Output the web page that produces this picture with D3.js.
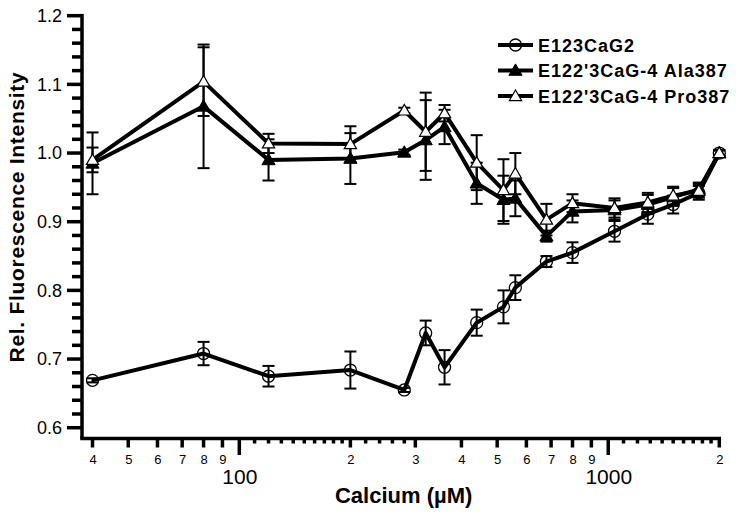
<!DOCTYPE html>
<html>
<head>
<meta charset="utf-8">
<script src="https://cdn.jsdelivr.net/npm/d3@7"></script>
<style>
  body { margin: 0; background: #fff; }
  svg { display: block; }
</style>
</head>
<body>
<div id="chart"></div>
<script>
// calcium concentrations (uM)
const calcium = [40, 80, 120, 200, 280, 320, 360, 440, 520, 560, 680, 800, 1040, 1280, 1500, 1760, 2000];

const seriesNames = ["E123CaG2", "E122'3CaG-4 Ala387", "E122'3CaG-4 Pro387"];

const e123Values = [0.669, 0.708, 0.675, 0.684, 0.655, 0.738, 0.688, 0.753, 0.776, 0.804, 0.842, 0.855, 0.886, 0.911, 0.925, 0.942, 1.000];
const e123Errors = [0.003, 0.017, 0.015, 0.027, 0.003, 0.018, 0.025, 0.019, 0.024, 0.018, 0.008, 0.015, 0.015, 0.014, 0.013, 0.010, 0.004];

const alaValues = [0.985, 1.068, 0.990, 0.992, 1.001, 1.019, 1.038, 0.956, 0.932, 0.934, 0.879, 0.915, 0.917, 0.925, 0.936, 0.947, 1.000];
const alaErrors = [0.045, 0.090, 0.030, 0.037, 0.004, 0.058, 0.025, 0.030, 0.035, 0.026, 0.008, 0.016, 0.014, 0.014, 0.013, 0.010, 0.004];

const proValues = [0.990, 1.104, 1.014, 1.013, 1.062, 1.031, 1.058, 0.986, 0.946, 0.970, 0.903, 0.927, 0.920, 0.928, 0.938, 0.945, 1.000];
const proErrors = [0.018, 0.050, 0.014, 0.026, 0.004, 0.057, 0.012, 0.040, 0.045, 0.030, 0.023, 0.013, 0.014, 0.014, 0.013, 0.010, 0.004];

// x axis ticks
const xMajorTicks = [100, 1000];
const xLabeledTicks = [40, 50, 60, 70, 80, 90, 200, 300, 400, 500, 600, 700, 800, 900, 2000];
const xMinorTicks = [110, 120, 130, 140, 150, 160, 170, 180, 190, 220, 240, 260, 280,
                     1100, 1200, 1300, 1400, 1500, 1600, 1700, 1800, 1900];
// y axis ticks
const yMajorTicks = [0.6, 0.7, 0.8, 0.9, 1.0, 1.1, 1.2];
const yMinorTicks = [0.62, 0.64, 0.66, 0.68, 0.72, 0.74, 0.76, 0.78, 0.82, 0.84, 0.86, 0.88,
                     0.92, 0.94, 0.96, 0.98, 1.02, 1.04, 1.06, 1.08, 1.12, 1.14, 1.16, 1.18];

const width = 736, height = 513;
const x0 = 82, x1 = 719.3, yTop = 15.7, yBottom = 438.5;

const svg = d3.select('#chart').append('svg')
    .attr('width', width)
    .attr('height', height);

const x = d3.scaleLog().domain([37.46, 2000]).range([x0, x1]);
const y = d3.scaleLinear().domain([0.5843, 1.2]).range([yBottom, yTop]);

const font = "'Liberation Sans', Arial, Helvetica, sans-serif";
const narrow = "'Liberation Sans Narrow', 'Arial Narrow', 'Liberation Sans', sans-serif";

// ----- ticks (drawn as plain rects from the scales) -----
const tickG = svg.append('g').attr('fill', '#000');

function xTicks(values, len, w) {
    tickG.append('g').selectAll('rect').data(values).enter().append('rect')
        .attr('x', d => x(d) - w / 2).attr('width', w)
        .attr('y', yBottom).attr('height', len);
}
function yTicks(values, len, w) {
    tickG.append('g').selectAll('rect').data(values).enter().append('rect')
        .attr('x', x0 - len).attr('width', len)
        .attr('y', d => y(d) - w / 2).attr('height', w);
}
xTicks(xMinorTicks, 5, 3.5);
xTicks(xLabeledTicks, 9, 3.5);
xTicks(xMajorTicks, 16.5, 3.5);
yTicks(yMinorTicks, 10, 3.5);
yTicks(yMajorTicks, 15, 3.5);

// axis lines
tickG.append('rect').attr('x', x0 - 1.75).attr('width', x1 - x0 + 3.5)
    .attr('y', yBottom - 1.75).attr('height', 3.5);
tickG.append('rect').attr('x', x0 - 1.75).attr('width', 3.5)
    .attr('y', yTop - 1.75).attr('height', yBottom - yTop + 1.75);

// ----- axis labels (d3 axes, lines hidden) -----
const xAxisG = svg.append('g').attr('transform', `translate(0,${yBottom})`);

xAxisG.append('g')
    .call(d3.axisBottom(x).tickValues(xLabeledTicks).tickSize(0).tickPadding(16)
        .tickFormat(d => String(d).charAt(0)))
    .call(g => g.select('.domain').remove())
    .call(g => g.selectAll('text').attr('font-family', narrow).attr('font-size', 13).attr('fill', '#000'));

xAxisG.append('g')
    .call(d3.axisBottom(x).tickValues(xMajorTicks).tickSize(0).tickPadding(31)
        .tickFormat(d3.format('d')))
    .call(g => g.select('.domain').remove())
    .call(g => g.selectAll('text').attr('font-family', narrow).attr('font-size', 21).attr('fill', '#000'));

svg.append('g').attr('transform', `translate(${x0},0)`)
    .call(d3.axisLeft(y).tickValues(yMajorTicks).tickSize(0).tickPadding(20)
        .tickFormat(d3.format('.1f')))
    .call(g => g.select('.domain').remove())
    .call(g => g.selectAll('text').attr('font-family', font).attr('font-size', 18).attr('fill', '#000'));

// axis titles
svg.append('text')
    .attr('x', (x0 + x1) / 2 + 3)
    .attr('y', 503)
    .attr('text-anchor', 'middle')
    .attr('font-family', narrow)
    .attr('font-weight', 'bold')
    .attr('font-size', 22)
    .text('Calcium (\u00b5M)');

svg.append('text')
    .attr('transform', `translate(24,${217}) rotate(-90)`)
    .attr('text-anchor', 'middle')
    .attr('font-family', font)
    .attr('font-weight', 'bold')
    .attr('font-size', 21)
    .attr('letter-spacing', 0.7)
    .text('Rel. Fluorescence Intensity');

// ----- series -----
const series = [
    { name: seriesNames[0], values: e123Values, errors: e123Errors, marker: 'circle' },
    { name: seriesNames[1], values: alaValues, errors: alaErrors, marker: 'filled' },
    { name: seriesNames[2], values: proValues, errors: proErrors, marker: 'open' }
];

const capHalf = 6;

series.forEach(s => {
    const pts = calcium.map((c, i) => ({ c, v: s.values[i], e: s.errors[i] }));
    const g = svg.append('g');

    // error bars
    const eb = g.selectAll('.eb').data(pts).enter().append('g');
    eb.append('line')
        .attr('x1', d => x(d.c)).attr('x2', d => x(d.c))
        .attr('y1', d => y(d.v - d.e)).attr('y2', d => y(d.v + d.e))
        .attr('stroke', '#000').attr('stroke-width', 2);
    eb.selectAll('.cap').data(d => [d.v - d.e, d.v + d.e].map(v => ({ c: d.c, v })))
        .enter().append('line')
        .attr('x1', d => x(d.c) - capHalf).attr('x2', d => x(d.c) + capHalf)
        .attr('y1', d => y(d.v)).attr('y2', d => y(d.v))
        .attr('stroke', '#000').attr('stroke-width', 2);

    // line
    g.append('path')
        .datum(pts)
        .attr('fill', 'none')
        .attr('stroke', '#000')
        .attr('stroke-width', 4)
        .attr('stroke-linejoin', 'round')
        .attr('d', d3.line().x(d => x(d.c)).y(d => y(d.v)));
});

function drawMarker(sel, type) {
    if (type === 'circle') {
        sel.append('circle').attr('r', 6)
            .attr('fill', 'none').attr('stroke', '#000').attr('stroke-width', 1.3);
    } else if (type === 'filled') {
        sel.append('path').attr('d', d3.symbol(d3.symbolTriangle, 75)())
            .attr('transform', 'translate(0,1)')
            .attr('fill', '#000').attr('stroke', '#000').attr('stroke-width', 1);
    } else {
        sel.append('path').attr('d', d3.symbol(d3.symbolTriangle, 65)())
            .attr('transform', 'translate(0,1)')
            .attr('fill', '#fff').attr('stroke', '#000').attr('stroke-width', 1.2);
    }
}

series.forEach(s => {
    svg.append('g').selectAll('g').data(calcium.map((c, i) => ({ c, v: s.values[i] })))
        .enter().append('g')
        .attr('transform', d => `translate(${x(d.c)},${y(d.v)})`)
        .each(function () { drawMarker(d3.select(this), s.marker); });
});

// ----- legend -----
const legend = svg.append('g').attr('transform', 'translate(498,45)');
series.forEach((s, i) => {
    const row = legend.append('g').attr('transform', `translate(0,${i * 25.5})`);
    row.append('line').attr('x1', 0).attr('x2', 35).attr('y1', 0).attr('y2', 0)
        .attr('stroke', '#000').attr('stroke-width', 4);
    const m = row.append('g').attr('transform', 'translate(17.5,0)');
    drawMarker(m, s.marker);
    row.append('text')
        .attr('x', 40).attr('y', 6.5)
        .attr('font-family', font)
        .attr('font-weight', 'bold')
        .attr('font-size', 18)
        .attr('letter-spacing', 1)
        .text(s.name);
});
</script>
</body>
</html>
